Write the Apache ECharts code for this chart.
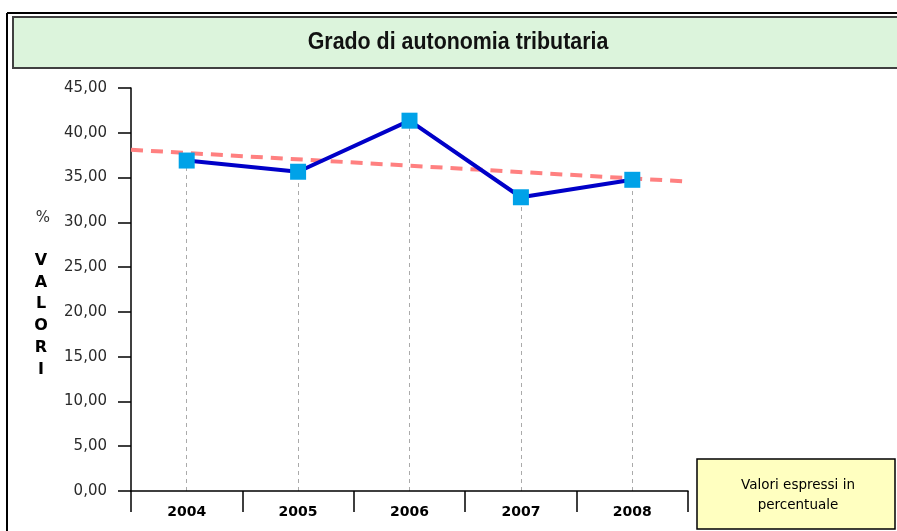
<!DOCTYPE html>
<html>
<head>
<meta charset="utf-8">
<script src="https://cdn.jsdelivr.net/npm/echarts@6/dist/echarts.min.js"></script>
<style>
  html, body { margin: 0; padding: 0; background: #fff; }
  #chart { width: 897px; height: 531px; }
</style>
</head>
<body>
<div id="chart"></div>
<script>
// dati
const years = ["2004", "2005", "2006", "2007", "2008"];
const valori = [36.9, 35.65, 41.35, 32.8, 34.75];
const trendX = [0, 5];
const trendY = [38.1, 34.55];
const yTicks = { min: 0, max: 45, step: 5 };

const chart = echarts.init(document.getElementById("chart"));

const fmt = v => v.toFixed(2).replace(".", ",");

// linee tratteggiate verticali dal punto all'asse
const dropLines = years.map((y, i) => [
  { coord: [i, 0] },
  { coord: [i, valori[i]] }
]);

const option = {
  animation: false,
  grid: { left: 131, right: 209, top: 88, bottom: 40 },
  xAxis: [
    {
      type: "category",
      data: years,
      boundaryGap: true,
      axisLine: { lineStyle: { color: "#000", width: 1.5 } },
      axisTick: { show: true, interval: 0, length: 21, lineStyle: { color: "#000", width: 1.5 } },
      axisLabel: { color: "#000", fontFamily: "DejaVu Sans", fontWeight: "bold", fontSize: 14, margin: 14 },
      splitLine: { show: false }
    },
    { type: "value", min: trendX[0], max: trendX[1], show: false }
  ],
  yAxis: {
    type: "value",
    min: yTicks.min,
    max: yTicks.max,
    interval: yTicks.step,
    axisLine: { show: true, lineStyle: { color: "#000", width: 1.5 } },
    axisTick: { show: true, length: 13, lineStyle: { color: "#000", width: 1.5 } },
    axisLabel: { color: "#2a2a2a", fontFamily: "DejaVu Sans", fontSize: 15, margin: 24, formatter: fmt },
    splitLine: { show: false }
  },
  series: [
    {
      // solo per le linee verticali, sotto a tutto
      type: "line",
      data: valori,
      showSymbol: false,
      lineStyle: { width: 0, opacity: 0 },
      markLine: {
        z: 0,
        silent: true,
        symbol: "none",
        label: { show: false },
        lineStyle: { color: "#aaa", width: 1, type: [4, 4] },
        data: dropLines
      },
      z: 0
    },
    {
      type: "line",
      xAxisIndex: 1,
      data: trendX.map((x, i) => [x, trendY[i]]),
      symbol: "none",
      lineStyle: { color: "#ff8080", width: 4, type: [12, 8] },
      z: 1
    },
    {
      type: "line",
      data: valori,
      symbol: "rect",
      symbolSize: 16,
      lineStyle: { color: "#0000c8", width: 4 },
      itemStyle: { color: "#00a2e8", borderWidth: 0 },
      z: 3
    }
  ],
  graphic: [
    { type: "line", shape: { x1: 7, y1: 13, x2: 897, y2: 13 }, style: { stroke: "#000", lineWidth: 2 } },
    { type: "line", shape: { x1: 7, y1: 13, x2: 7, y2: 531 }, style: { stroke: "#000", lineWidth: 2 } },
    {
      type: "rect",
      shape: { x: 13, y: 17, width: 900, height: 51 },
      style: { fill: "#dcf4dc", stroke: "#404040", lineWidth: 2 }
    },
    {
      type: "text",
      x: 458, y: 43,
      scaleX: 0.93,
      style: {
        text: "Grado di autonomia tributaria",
        fill: "#111",
        font: "bold 23px 'Liberation Sans', sans-serif",
        align: "center", verticalAlign: "middle"
      }
    },
    {
      type: "text",
      x: 43, y: 218,
      style: { text: "%", fill: "#333", font: "15px 'DejaVu Sans'", align: "center", verticalAlign: "middle" }
    },
    {
      type: "text",
      x: 41, y: 250,
      style: {
        text: "V\nA\nL\nO\nR\nI",
        fill: "#000",
        font: "bold 16px 'DejaVu Sans'",
        lineHeight: 21.7,
        align: "center", verticalAlign: "top"
      }
    },
    {
      type: "rect",
      shape: { x: 697, y: 459, width: 198, height: 70 },
      style: { fill: "#ffffc0", stroke: "#000", lineWidth: 1.5 }
    },
    {
      type: "text",
      x: 798, y: 495,
      style: {
        text: "Valori espressi in\npercentuale",
        fill: "#000",
        font: "13.5px 'DejaVu Sans'",
        lineHeight: 20,
        align: "center", verticalAlign: "middle"
      }
    }
  ]
};

chart.setOption(option);
</script>
</body>
</html>
